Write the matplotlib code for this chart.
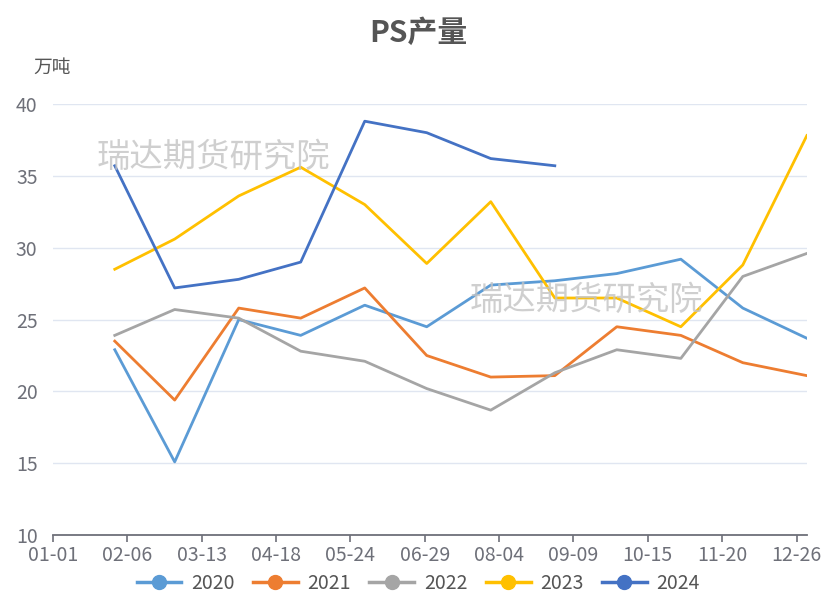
import matplotlib
matplotlib.use('Agg')
import matplotlib.pyplot as plt
import matplotlib.dates as mdates
import numpy as np
import datetime as dt

plt.rcParams['font.family'] = ['Noto Sans CJK SC', 'DejaVu Sans']

# month-end dates on a common (leap) year axis
months = [dt.date(2024, 1, 31), dt.date(2024, 2, 29), dt.date(2024, 3, 31),
          dt.date(2024, 4, 30), dt.date(2024, 5, 31), dt.date(2024, 6, 30),
          dt.date(2024, 7, 31), dt.date(2024, 8, 31), dt.date(2024, 9, 30),
          dt.date(2024, 10, 31), dt.date(2024, 11, 30), dt.date(2024, 12, 31)]

y2020 = [22.9, 15.1, 25.0, 23.9, 26.0, 24.5, 27.4, 27.7, 28.2, 29.2, 25.8, 23.7]
y2021 = [23.5, 19.4, 25.8, 25.1, 27.2, 22.5, 21.0, 21.1, 24.5, 23.9, 22.0, 21.1]
y2022 = [23.9, 25.7, 25.1, 22.8, 22.1, 20.2, 18.7, 21.3, 22.9, 22.3, 28.0, 29.6]
y2023 = [28.5, 30.6, 33.6, 35.6, 33.0, 28.9, 33.2, 26.5, 26.5, 24.5, 28.8, 37.8]
y2024 = [35.7, 27.2, 27.8, 29.0, 38.8, 38.0, 36.2, 35.7]

series = [('2020', y2020, '#5B9BD5'), ('2021', y2021, '#ED7D31'),
          ('2022', y2022, '#A5A5A5'), ('2023', y2023, '#FFC000'),
          ('2024', y2024, '#4472C4')]

fig = plt.figure(figsize=(8.25, 5.94), dpi=100)
ax = fig.add_axes([0.064, 0.099, 0.914, 0.726])

for name, vals, col in series:
    ax.plot(months[:len(vals)], vals, color=col, lw=2.0, label=name,
            solid_joinstyle='round')

ax.set_ylim(10, 40)
ax.set_yticks(np.arange(10, 41, 5))
ax.set_xlim(dt.date(2024, 1, 1), dt.date(2024, 12, 31))
ticks = [dt.date(2024, 1, 1) + dt.timedelta(days=36 * i) for i in range(11)]
ax.set_xticks(ticks)
ax.xaxis.set_major_formatter(mdates.DateFormatter('%m-%d'))

ax.grid(axis='y', color='#E0E6F1', lw=1)
ax.set_axisbelow(True)
for s in ['top', 'right', 'left']:
    ax.spines[s].set_visible(False)
ax.spines['bottom'].set_color('#6E7079')
ax.spines['bottom'].set_linewidth(1.3)
ax.tick_params(axis='x', colors='#6E7079', length=5, width=1.2, labelsize=14, pad=2)
ax.tick_params(axis='y', colors='#6E7079', length=0, labelsize=14, pad=11)

fig.text(0.507, 0.945, 'PS产量', ha='center', va='center', fontsize=21.5,
         fontweight='bold', color='#555555')
fig.text(0.063, 0.887, '万吨', ha='center', va='center', fontsize=13.5, color='#555555')

# watermarks
fig.text(0.117, 0.735, '瑞达期货研究院', fontsize=24, color='#C4C4C4', alpha=0.8,
         va='center')
fig.text(0.569, 0.494, '瑞达期货研究院', fontsize=24, color='#C4C4C4', alpha=0.8,
         va='center')

handles = [plt.Line2D([], [], color=c, lw=2.5, marker='o', markersize=10) for _, _, c in series]
fig.legend(handles, [n for n, _, _ in series], loc='center', bbox_to_anchor=(0.507, 0.018),
           ncol=5, frameon=False, fontsize=14, handlelength=2.3, columnspacing=0.95,
           handletextpad=0.5, labelcolor='#555555')

fig.savefig('out.png', dpi=100)
